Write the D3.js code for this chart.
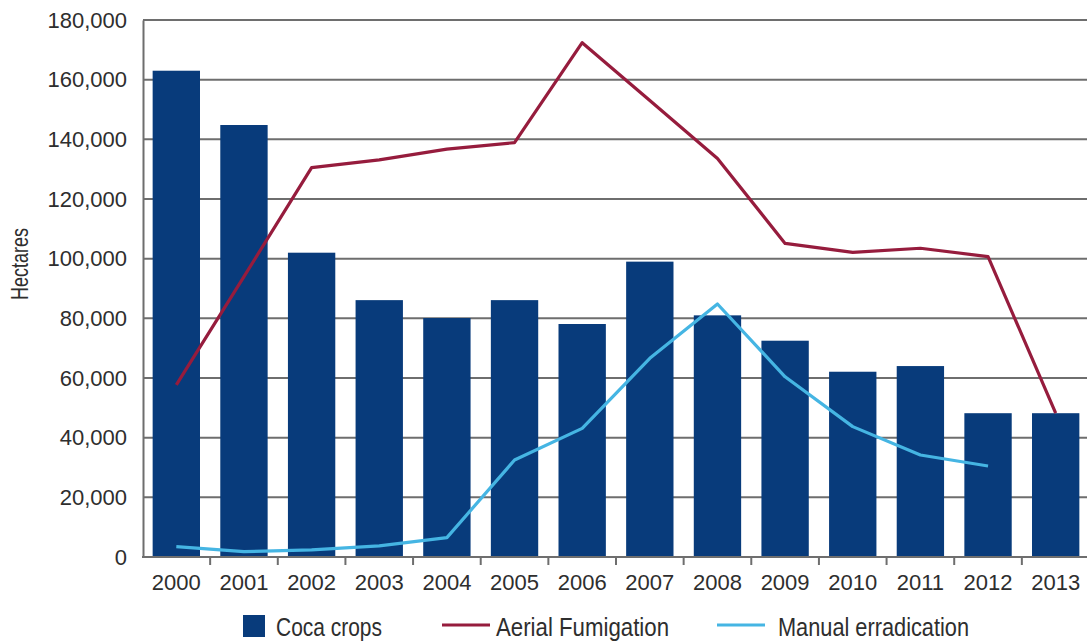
<!DOCTYPE html>
<html>
<head>
<meta charset="utf-8">
<script src="https://cdn.jsdelivr.net/npm/d3@7"></script>
<style>
  html, body { margin: 0; padding: 0; background: #fff; }
  svg { display: block; }
</style>
</head>
<body>
<svg id="chart" width="1087" height="641"></svg>
<script>
const years = ["2000","2001","2002","2003","2004","2005","2006","2007","2008","2009","2010","2011","2012","2013"];
const cocaCrops = [163000,144800,102000,86100,80100,86100,78100,99000,81000,72500,62100,64000,48200,48200];
const aerialFumigation = [57700,94000,130500,133100,136700,138900,172400,153000,133600,105100,102100,103500,100700,48200];
const manualEradication = [3500,1800,2400,3700,6500,32500,43100,66600,84800,60400,43700,34200,30500,null];
const yTicks = [0,20000,40000,60000,80000,100000,120000,140000,160000,180000];
const legendLabels = ["Coca crops","Aerial Fumigation","Manual erradication"];

const colors = { bar: "#083b7b", red: "#961c3d", blue: "#45b5e3", grid: "#6e6e6e", text: "#2e2e2e" };
const tickFont = "'Liberation Sans', Arial, sans-serif";

const svg = d3.select("#chart");
const x = d3.scaleBand().domain(years).range([142.5, 1089.5]).paddingInner(0.3).paddingOuter(0.15);
const y = d3.scaleLinear().domain([0, 180000]).range([557, 20]);

// gridlines
svg.append("g").selectAll("line").data(yTicks.filter(d => d > 0)).join("line")
  .attr("x1", 143).attr("x2", 1087)
  .attr("y1", d => y(d)).attr("y2", d => y(d))
  .attr("stroke", colors.grid).attr("stroke-width", 2);

// bars
svg.append("g").selectAll("rect").data(years).join("rect")
  .attr("x", d => x(d))
  .attr("width", x.bandwidth())
  .attr("y", (d, i) => y(cocaCrops[i]))
  .attr("height", (d, i) => y(0) - y(cocaCrops[i]))
  .attr("fill", colors.bar);

// y axis
const yAxis = svg.append("g").attr("transform", "translate(143,0)")
  .call(d3.axisLeft(y).tickValues(yTicks).tickSize(0).tickPadding(16).tickFormat(d3.format(",")));
yAxis.select(".domain").attr("stroke", colors.grid).attr("stroke-width", 2);
yAxis.selectAll("text").attr("font-family", tickFont).attr("font-size", 22).attr("fill", colors.text);

// x axis
const xAxis = svg.append("g").attr("transform", "translate(0,557)")
  .call(d3.axisBottom(x).tickSize(0).tickPadding(17));
xAxis.select(".domain").remove();
xAxis.selectAll("text").attr("font-family", tickFont).attr("font-size", 22).attr("fill", colors.text);
svg.append("line").attr("x1", 142).attr("x2", 1087).attr("y1", 557).attr("y2", 557)
  .attr("stroke", colors.grid).attr("stroke-width", 2);
// x ticks at band boundaries
svg.append("g").selectAll("line").data(years.slice(1)).join("line")
  .attr("x1", d => x(d) - x.step() * x.paddingInner() / 2)
  .attr("x2", d => x(d) - x.step() * x.paddingInner() / 2)
  .attr("y1", 557).attr("y2", 565)
  .attr("stroke", colors.grid).attr("stroke-width", 2);

// lines
const cx = d => x(d) + x.bandwidth() / 2;
const redLine = d3.line().x((d, i) => cx(years[i])).y(d => y(d));
svg.append("path").datum(aerialFumigation).attr("d", redLine)
  .attr("fill", "none").attr("stroke", colors.red).attr("stroke-width", 3.2).attr("stroke-linejoin", "round");
const blueLine = d3.line().defined(d => d != null).x((d, i) => cx(years[i])).y(d => y(d));
svg.append("path").datum(manualEradication).attr("d", blueLine)
  .attr("fill", "none").attr("stroke", colors.blue).attr("stroke-width", 3.2).attr("stroke-linejoin", "round");

// y label
svg.append("text").attr("transform", "translate(28,264) rotate(-90)")
  .attr("text-anchor", "middle").attr("font-family", tickFont).attr("font-size", 23)
  .attr("textLength", 72).attr("lengthAdjust", "spacingAndGlyphs")
  .attr("fill", colors.text).text("Hectares");

// legend
const lg = svg.append("g");
lg.append("rect").attr("x", 243).attr("y", 615).attr("width", 22).attr("height", 22).attr("fill", colors.bar);
lg.append("text").attr("x", 276).attr("y", 636).attr("font-family", tickFont).attr("font-size", 25)
  .attr("textLength", 106).attr("lengthAdjust", "spacingAndGlyphs")
  .attr("fill", colors.text).text(legendLabels[0]);
lg.append("line").attr("x1", 442).attr("x2", 490).attr("y1", 625).attr("y2", 625)
  .attr("stroke", colors.red).attr("stroke-width", 3);
lg.append("text").attr("x", 496).attr("y", 636).attr("font-family", tickFont).attr("font-size", 25)
  .attr("textLength", 173).attr("lengthAdjust", "spacingAndGlyphs")
  .attr("fill", colors.text).text(legendLabels[1]);
lg.append("line").attr("x1", 717).attr("x2", 765).attr("y1", 625).attr("y2", 625)
  .attr("stroke", colors.blue).attr("stroke-width", 3);
lg.append("text").attr("x", 778).attr("y", 636).attr("font-family", tickFont).attr("font-size", 25)
  .attr("textLength", 191).attr("lengthAdjust", "spacingAndGlyphs")
  .attr("fill", colors.text).text(legendLabels[2]);
</script>
</body>
</html>
